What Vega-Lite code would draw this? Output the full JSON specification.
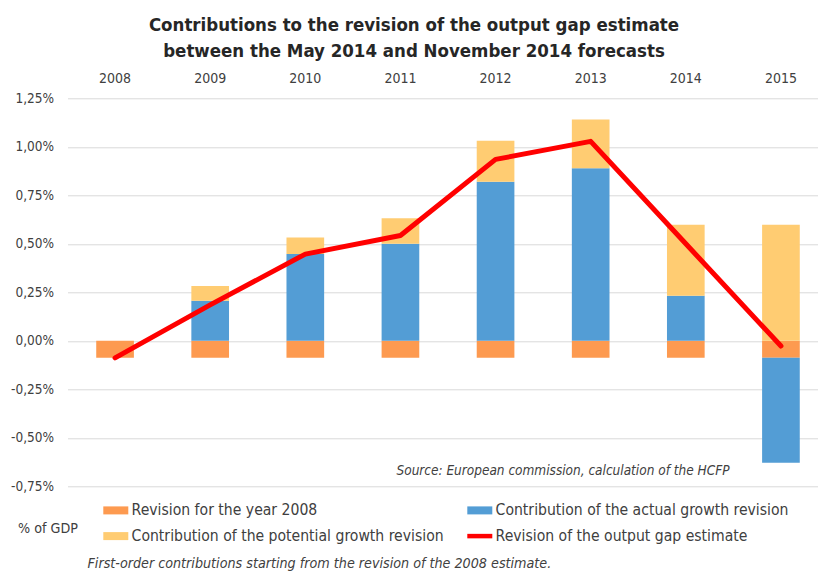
{
  "$schema": "https://vega.github.io/schema/vega-lite/v6.json",
  "autosize": "none",
  "padding": {"left": 67.5, "top": 98.3, "right": 0, "bottom": 87.7},
  "width": 751,
  "height": 388,
  "background": "white",
  "title": {
    "text": ["Contributions to the revision of the output gap estimate", "between the May 2014 and November 2014 forecasts"],
    "font": "Liberation Sans Narrow, DejaVu Sans Condensed, Open Sans",
    "fontSize": 18.5,
    "fontWeight": "bold",
    "color": "#262626",
    "anchor": "middle",
    "frame": "group",
    "dx": -29,
    "lineHeight": 26,
    "offset": 11
  },
  "config": {
    "view": {"stroke": null},
    "font": "Liberation Sans Narrow, DejaVu Sans Condensed, Open Sans",
    "axis": {"labelFont": "Liberation Sans Narrow, DejaVu Sans Condensed, Open Sans", "titleFont": "Liberation Sans Narrow, DejaVu Sans Condensed, Open Sans"},
    "legend": {"labelFont": "Liberation Sans Narrow, DejaVu Sans Condensed, Open Sans", "titleFont": "Liberation Sans Narrow, DejaVu Sans Condensed, Open Sans"}
  },
  "layer": [
    {
      "data": {"values": [
        {"year": "2008", "series": "Revision for the year 2008", "value": -0.088, "ord": 1},
        {"year": "2009", "series": "Revision for the year 2008", "value": -0.088, "ord": 1},
        {"year": "2010", "series": "Revision for the year 2008", "value": -0.088, "ord": 1},
        {"year": "2011", "series": "Revision for the year 2008", "value": -0.088, "ord": 1},
        {"year": "2012", "series": "Revision for the year 2008", "value": -0.088, "ord": 1},
        {"year": "2013", "series": "Revision for the year 2008", "value": -0.088, "ord": 1},
        {"year": "2014", "series": "Revision for the year 2008", "value": -0.088, "ord": 1},
        {"year": "2015", "series": "Revision for the year 2008", "value": -0.088, "ord": 1},
        {"year": "2009", "series": "Contribution of the actual growth revision", "value": 0.206, "ord": 2},
        {"year": "2010", "series": "Contribution of the actual growth revision", "value": 0.448, "ord": 2},
        {"year": "2011", "series": "Contribution of the actual growth revision", "value": 0.500, "ord": 2},
        {"year": "2012", "series": "Contribution of the actual growth revision", "value": 0.820, "ord": 2},
        {"year": "2013", "series": "Contribution of the actual growth revision", "value": 0.890, "ord": 2},
        {"year": "2014", "series": "Contribution of the actual growth revision", "value": 0.232, "ord": 2},
        {"year": "2015", "series": "Contribution of the actual growth revision", "value": -0.541, "ord": 2},
        {"year": "2009", "series": "Contribution of the potential growth revision", "value": 0.076, "ord": 3},
        {"year": "2010", "series": "Contribution of the potential growth revision", "value": 0.085, "ord": 3},
        {"year": "2011", "series": "Contribution of the potential growth revision", "value": 0.132, "ord": 3},
        {"year": "2012", "series": "Contribution of the potential growth revision", "value": 0.211, "ord": 3},
        {"year": "2013", "series": "Contribution of the potential growth revision", "value": 0.251, "ord": 3},
        {"year": "2014", "series": "Contribution of the potential growth revision", "value": 0.366, "ord": 3},
        {"year": "2015", "series": "Contribution of the potential growth revision", "value": 0.598, "ord": 3}
      ]},
      "mark": {"type": "bar"},
      "encoding": {
        "x": {
          "field": "year", "type": "nominal",
          "scale": {"range": [0, 761], "paddingInner": 0.604, "paddingOuter": 0.302},
          "axis": {
            "orient": "top", "domain": false, "ticks": false, "grid": false,
            "labelAngle": 0, "labelFontSize": 14, "labelColor": "#404040", "labelPadding": 13,
            "title": "Source: European commission, calculation of the HCFP",
            "titleFontStyle": "italic", "titleFontWeight": "normal", "titleFontSize": 13.5, "titleColor": "#404040",
            "titleAlign": "left", "titleBaseline": "middle", "titleAnchor": null,
            "titleX": 328.5, "titleY": 372
          }
        },
        "y": {
          "field": "value", "type": "quantitative", "stack": "zero",
          "scale": {"domain": [-0.75, 1.25], "nice": false, "zero": false},
          "axis": {
            "values": [-0.75, -0.5, -0.25, 0, 0.25, 0.5, 0.75, 1, 1.25],
            "domain": false, "ticks": false, "gridColor": "#d9d9d9", "gridWidth": 1,
            "labelExpr": "replace(replace(format(datum.value, '.2f'), '.', ','), '\u2212', '-') + '%'",
            "labelFontSize": 13.5, "labelColor": "#404040", "labelPadding": 14,
            "title": "First-order contributions starting from the revision of the 2008 estimate.",
            "titleFontStyle": "italic", "titleFontWeight": "normal", "titleFontSize": 14.2, "titleColor": "#404040",
            "titleAngle": 0, "titleAlign": "left", "titleBaseline": "middle", "titleAnchor": null,
            "titleX": 19.5, "titleY": 465
          }
        },
        "color": {
          "field": "series", "type": "nominal",
          "scale": {
            "domain": ["Revision for the year 2008", "Contribution of the actual growth revision", "Contribution of the potential growth revision", "Revision of the output gap estimate"],
            "range": ["#FD9A50", "#539DD5", "#FFCC72", "#FF0000"]
          },
          "legend": {
            "orient": "none", "legendX": -49.5, "legendY": 404, "columns": 2, "direction": "horizontal",
            "columnPadding": 14, "rowPadding": 7,
            "title": "% of GDP", "titleOrient": "left", "titleFontSize": 14.2, "titleFontWeight": "normal", "titleColor": "#404040", "titlePadding": 30,
            "titleAnchor": "middle",
            "labelFontSize": 15.6, "labelColor": "#404040", "labelOffset": 8, "labelLimit": 500,
            "symbolSize": 625,
            "encode": {
              "title": {"update": {"dy": {"value": 6}}},
              "symbols": {
                "update": {
                  "shape": {"signal": "datum.value == 'Revision of the output gap estimate' ? 'M-1,0H1' : 'M-1,-0.32H1V0.32H-1Z'"},
                  "fill": {"signal": "datum.value == 'Revision of the output gap estimate' ? 'transparent' : scale('color', datum.value)"},
                  "stroke": {"signal": "datum.value == 'Revision of the output gap estimate' ? '#FF0000' : 'transparent'"},
                  "strokeWidth": {"signal": "datum.value == 'Revision of the output gap estimate' ? 4.5 : 0"},
                  "opacity": {"value": 1}
                }
              }
            }
          }
        },
        "order": {"field": "ord", "type": "quantitative"}
      }
    },
    {
      "data": {"values": [
        {"year": "2008", "gap": -0.088},
        {"year": "2009", "gap": 0.185},
        {"year": "2010", "gap": 0.447},
        {"year": "2011", "gap": 0.543},
        {"year": "2012", "gap": 0.935},
        {"year": "2013", "gap": 1.028},
        {"year": "2014", "gap": 0.500},
        {"year": "2015", "gap": -0.027}
      ]},
      "mark": {"type": "line", "strokeWidth": 5, "strokeCap": "round", "strokeJoin": "round"},
      "encoding": {
        "x": {"field": "year", "type": "nominal"},
        "y": {"field": "gap", "type": "quantitative"},
        "color": {"datum": "Revision of the output gap estimate"}
      }
    }
  ]
}
